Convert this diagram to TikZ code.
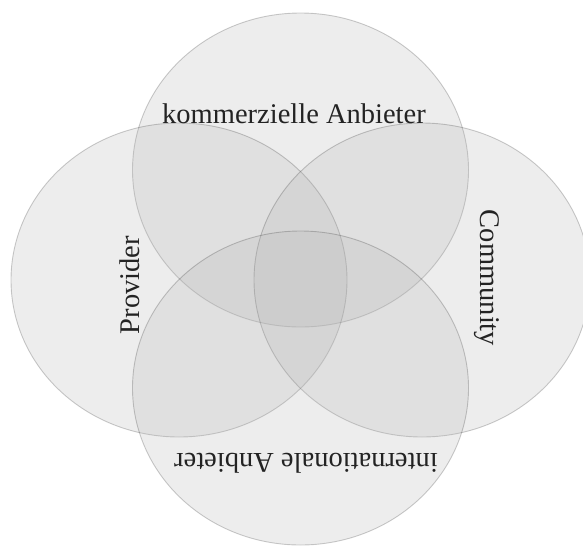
\documentclass[tikz,border=0pt]{standalone}
\usepackage{fontspec}
\setmainfont{Liberation Serif}
\begin{document}
\begin{tikzpicture}[x=1pt,y=-1pt,
  setcircle/.style={fill={rgb,255:red,180;green,180;blue,180}, fill opacity=0.24,
    draw=black, draw opacity=0.2, line width=0.9pt},
  setlabel/.style={font=\fontsize{28.5}{30}\selectfont, text={rgb,255:red,35;green,35;blue,35}, inner sep=0pt}]
\useasboundingbox (0,0) rectangle (583,547);
\begin{scope}
\clip (0,0) rectangle (583,547);
\draw[setcircle] (300.5,170) ellipse [x radius=168, y radius=157];
\draw[setcircle] (179,280) ellipse [x radius=168, y radius=157];
\draw[setcircle] (422,280) ellipse [x radius=168, y radius=157];
\draw[setcircle] (300.5,388) ellipse [x radius=168, y radius=157];
\end{scope}
\node[setlabel, anchor=base] (kom) at (294,123) {kommerzielle Anbieter};
\node[setlabel, rotate=180] (int) at (306,463) {internationale Anbieter};
\node[setlabel, rotate=90] (prov) at (130,285) {Provider};
\node[setlabel, rotate=-90] (comm) at (487,278) {Community};
\end{tikzpicture}
\end{document}
